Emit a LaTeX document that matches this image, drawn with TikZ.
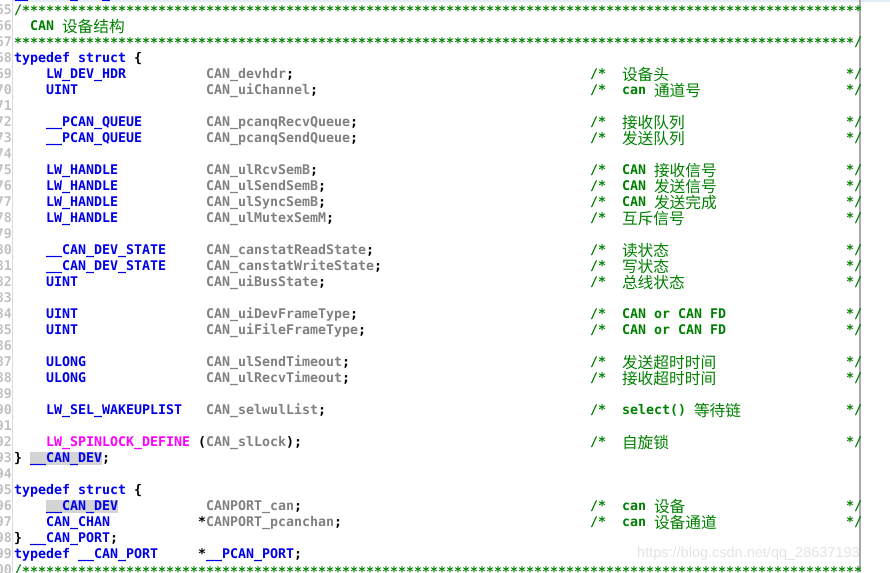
\documentclass[tikz,border=0pt]{standalone}
\usepackage{fontspec}
\newfontfamily\codefont{DejaVu Sans Mono}
\newfontfamily\cjk{Noto Sans CJK SC}
\newfontfamily\wmfont{Liberation Sans}
\usetikzlibrary{positioning}
\definecolor{kwblue}{RGB}{0,0,235}
\definecolor{idgray}{RGB}{128,128,128}
\definecolor{cmgreen}{RGB}{0,128,0}
\definecolor{lngray}{RGB}{192,192,192}
\definecolor{macmag}{RGB}{255,0,255}
\definecolor{hlgray}{RGB}{212,212,212}
\definecolor{barblue}{RGB}{228,236,248}
\definecolor{margin}{RGB}{168,168,168}
\newcommand{\zh}[1]{{\cjk\mdseries\fontsize{15.7}{16}\selectfont\raisebox{-1.8pt}{#1}}}
\newcommand{\tenstars}{\raisebox{-1.5pt}{**********}}
\newcommand{\starrow}{\tenstars\tenstars\tenstars\tenstars\tenstars\tenstars\tenstars\tenstars\tenstars\tenstars\raisebox{-1.5pt}{*****}}

\begin{document}
\begin{tikzpicture}
[x=1pt,y=-1pt,
code/.style={anchor=base west,inner sep=0pt,outer sep=0pt,font=\codefont\bfseries\fontsize{13.29}{16}\selectfont},
kw/.style={code,text=kwblue},
ident/.style={code,text=idgray},
cmt/.style={code,text=cmgreen},
pun/.style={code,text=black},
lnum/.style={code,anchor=base east,text=lngray},
hl/.style={fill=hlgray,text height=10.5pt,text depth=2.5pt}]
\useasboundingbox (0,0) rectangle (890,572);
\clip (0,0) rectangle (890,572);
%% editor frame
\fill[barblue] (13,0) rectangle (890,2.5);
\fill[kwblue] (15,0) rectangle (28,1.5);
\fill[kwblue] (70,0) rectangle (78,1.5);
\fill[kwblue] (102,0) rectangle (110,1.5);
\draw[lngray!60] (12.5,0) -- (12.5,572);
\draw[margin,line width=1.5pt] (860,0) -- (860,572);
%% line numbers
\foreach \n in {65,...,100}
  \node (l\n) [lnum] at (12,{16*\n-1025.5}) {\n};
%% header comment
\node (hd1) [cmt] at (14,14.5) {/\starrow};
\node (hd2) [cmt] at (30,30.5) {CAN \zh{设备结构}};
\node (hd3) [cmt] at (14,46.5) {\starrow/};
%% struct __CAN_DEV
\node (td1) [kw] at (14,62.5) {typedef struct};
\node (br1) [pun] at (134,62.5) {\{};
\foreach \n/\ty/\nm/\cm in {
  69/LW\_DEV\_HDR/CAN\_devhdr/\zh{设备头},
  70/UINT/CAN\_uiChannel/can \zh{通道号},
  72/\_\_PCAN\_QUEUE/CAN\_pcanqRecvQueue/\zh{接收队列},
  73/\_\_PCAN\_QUEUE/CAN\_pcanqSendQueue/\zh{发送队列},
  75/LW\_HANDLE/CAN\_ulRcvSemB/CAN \zh{接收信号},
  76/LW\_HANDLE/CAN\_ulSendSemB/CAN \zh{发送信号},
  77/LW\_HANDLE/CAN\_ulSyncSemB/CAN \zh{发送完成},
  78/LW\_HANDLE/CAN\_ulMutexSemM/\zh{互斥信号},
  80/\_\_CAN\_DEV\_STATE/CAN\_canstatReadState/\zh{读状态},
  81/\_\_CAN\_DEV\_STATE/CAN\_canstatWriteState/\zh{写状态},
  82/UINT/CAN\_uiBusState/\zh{总线状态},
  84/UINT/CAN\_uiDevFrameType/CAN or CAN FD,
  85/UINT/CAN\_uiFileFrameType/CAN or CAN FD,
  87/ULONG/CAN\_ulSendTimeout/\zh{发送超时时间},
  88/ULONG/CAN\_ulRecvTimeout/\zh{接收超时时间},
  90/LW\_SEL\_WAKEUPLIST/CAN\_selwulList/select() \zh{等待链}}
{
  \node (t\n) [kw] at (46,{16*\n-1025.5}) {\ty};
  \node (v\n) [ident] at (206,{16*\n-1025.5}) {\nm\textcolor{black}{;}};
  \node (o\n) [cmt] at (590,{16*\n-1025.5}) {/*};
  \node (c\n) [cmt] at (622,{16*\n-1025.5}) {\cm};
  \node (e\n) [cmt] at (846,{16*\n-1025.5}) {*/};
}
\node (t92) [code,text=macmag] at (46,446.5) {LW\_SPINLOCK\_DEFINE};
\node (v92) [pun] at (198,446.5) {(\textcolor{idgray}{CAN\_slLock});};
\node (o92) [cmt] at (590,446.5) {/*};
\node (c92) [cmt] at (622,446.5) {\zh{自旋锁}};
\node (e92) [cmt] at (846,446.5) {*/};
\node (cl1) [pun] at (14,462.5) {\}};
\node (nm1) [kw,hl] at (30,462.5) {\_\_CAN\_DEV};
\node (sc1) [pun] at (102,462.5) {;};
%% struct __CAN_PORT
\node (td2) [kw] at (14,494.5) {typedef struct};
\node (br2) [pun] at (134,494.5) {\{};
\node (t96) [kw,hl] at (46,510.5) {\_\_CAN\_DEV};
\node (v96) [ident] at (206,510.5) {CANPORT\_can\textcolor{black}{;}};
\node (o96) [cmt] at (590,510.5) {/*};
\node (c96) [cmt] at (622,510.5) {can \zh{设备}};
\node (e96) [cmt] at (846,510.5) {*/};
\node (t97) [kw] at (46,526.5) {CAN\_CHAN};
\node (v97) [pun] at (198,526.5) {*\textcolor{idgray}{CANPORT\_pcanchan};};
\node (o97) [cmt] at (590,526.5) {/*};
\node (c97) [cmt] at (622,526.5) {can \zh{设备通道}};
\node (e97) [cmt] at (846,526.5) {*/};
\node (cl2) [pun] at (14,542.5) {\}};
\node (nm2) [kw] at (30,542.5) {\_\_CAN\_PORT};
\node (sc2) [pun] at (110,542.5) {;};
\node (td3) [kw] at (14,558.5) {typedef \_\_CAN\_PORT};
\node (pt3) [pun] at (198,558.5) {*};
\node (nm3) [kw] at (206,558.5) {\_\_PCAN\_PORT};
\node (sc3) [pun] at (294,558.5) {;};
\node (ft1) [cmt] at (14,574.5) {/\starrow};
%% watermark
\node (wm) [anchor=base west,inner sep=0pt,font=\wmfont\fontsize{14.5}{16}\selectfont,text=gray!22] at (637,557) {https://blog.csdn.net/qq\_28637193};
\end{tikzpicture}
\end{document}
